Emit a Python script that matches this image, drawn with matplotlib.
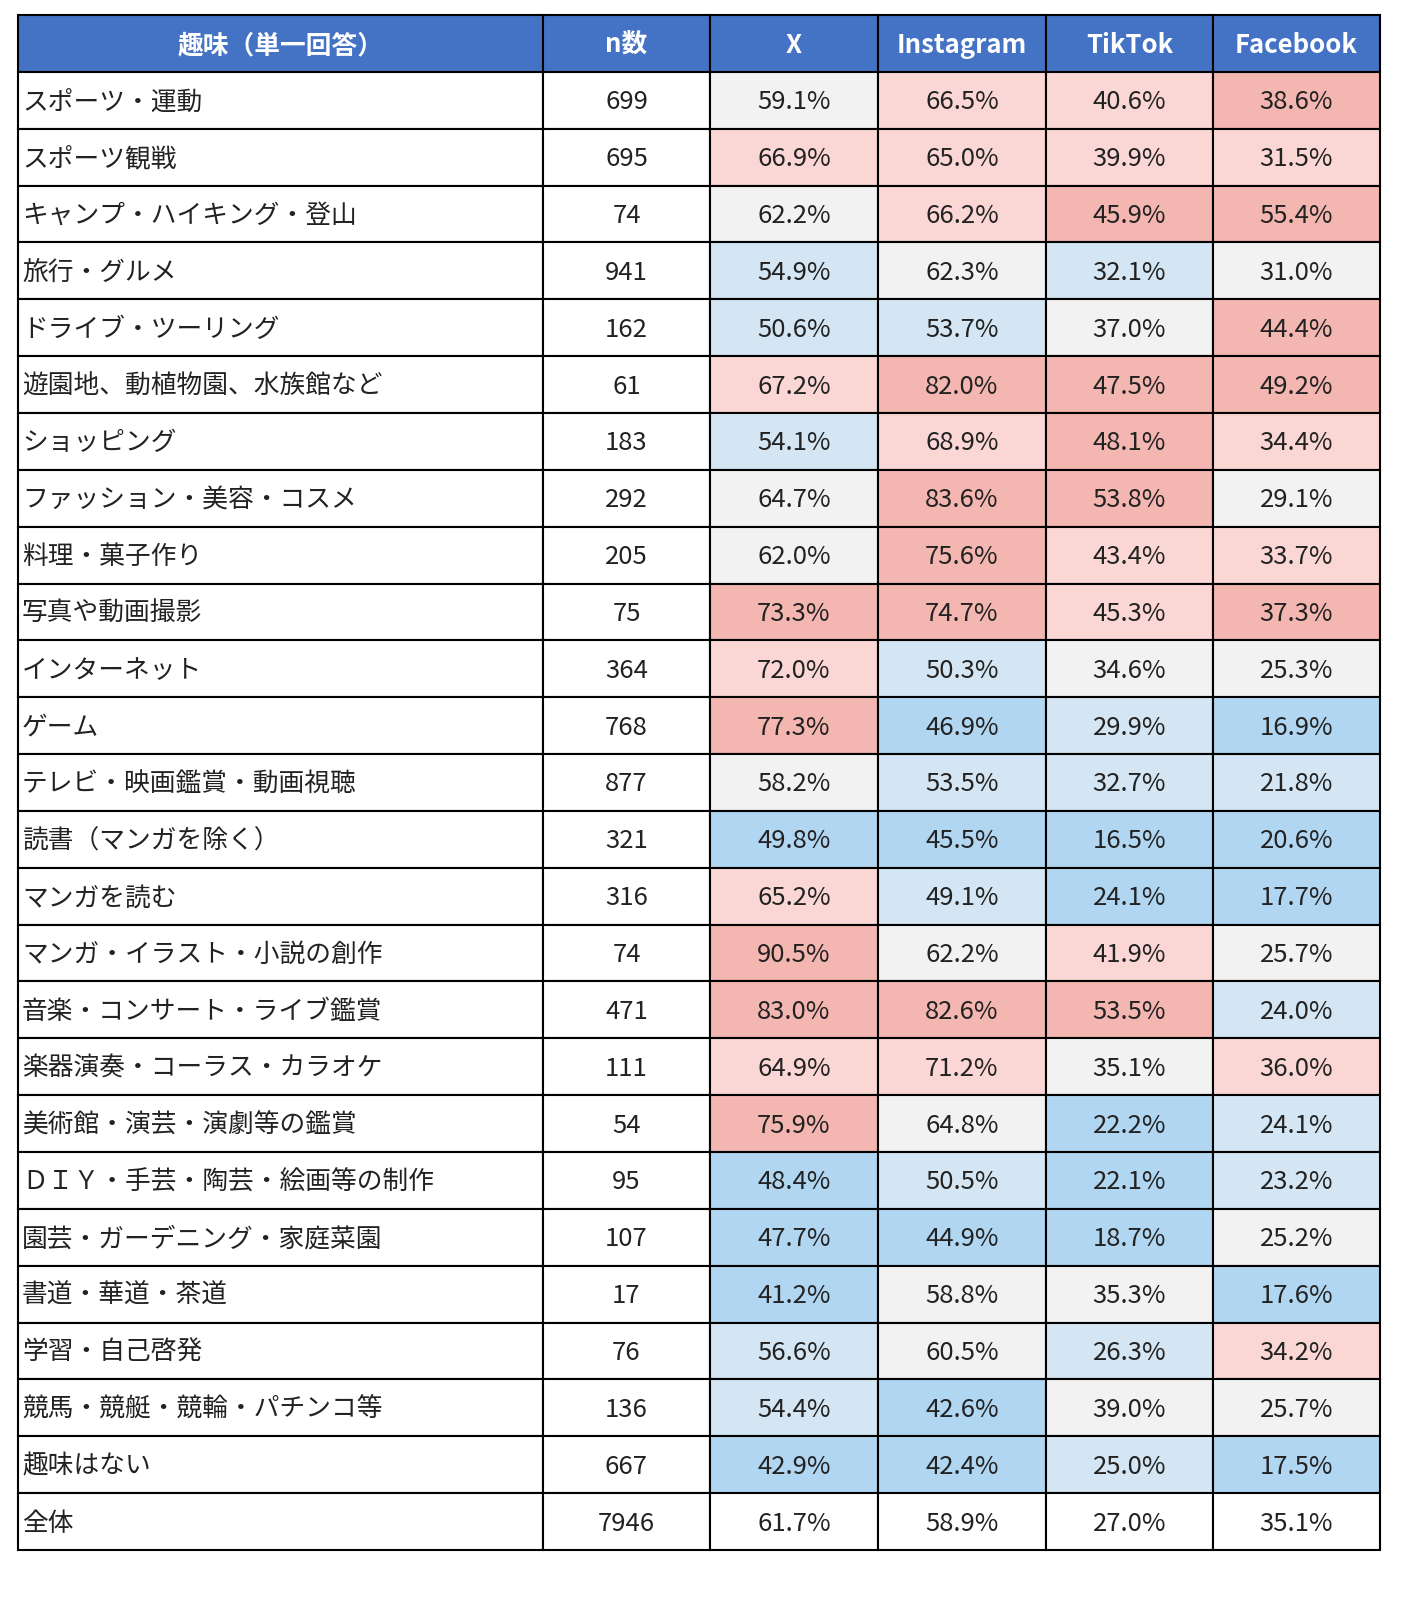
import matplotlib.pyplot as plt
from matplotlib.patches import Rectangle

plt.rcParams['font.family'] = ['Noto Sans CJK JP', 'DejaVu Sans']

header = ['趣味（単一回答）', 'n数', 'X', 'Instagram', 'TikTok', 'Facebook']
hobbies = ['スポーツ・運動', 'スポーツ観戦', 'キャンプ・ハイキング・登山', '旅行・グルメ',
           'ドライブ・ツーリング', '遊園地、動植物園、水族館など', 'ショッピング',
           'ファッション・美容・コスメ', '料理・菓子作り', '写真や動画撮影', 'インターネット',
           'ゲーム', 'テレビ・映画鑑賞・動画視聴', '読書（マンガを除く）', 'マンガを読む',
           'マンガ・イラスト・小説の創作', '音楽・コンサート・ライブ鑑賞',
           '楽器演奏・コーラス・カラオケ', '美術館・演芸・演劇等の鑑賞',
           'ＤＩＹ・手芸・陶芸・絵画等の制作', '園芸・ガーデニング・家庭菜園',
           '書道・華道・茶道', '学習・自己啓発', '競馬・競艇・競輪・パチンコ等',
           '趣味はない', '全体']
n = [699, 695, 74, 941, 162, 61, 183, 292, 205, 75, 364, 768, 877, 321, 316, 74,
     471, 111, 54, 95, 107, 17, 76, 136, 667, 7946]
x_pct = [59.1, 66.9, 62.2, 54.9, 50.6, 67.2, 54.1, 64.7, 62.0, 73.3, 72.0, 77.3, 58.2,
         49.8, 65.2, 90.5, 83.0, 64.9, 75.9, 48.4, 47.7, 41.2, 56.6, 54.4, 42.9, 61.7]
insta = [66.5, 65.0, 66.2, 62.3, 53.7, 82.0, 68.9, 83.6, 75.6, 74.7, 50.3, 46.9, 53.5,
         45.5, 49.1, 62.2, 82.6, 71.2, 64.8, 50.5, 44.9, 58.8, 60.5, 42.6, 42.4, 58.9]
tiktok = [40.6, 39.9, 45.9, 32.1, 37.0, 47.5, 48.1, 53.8, 43.4, 45.3, 34.6, 29.9, 32.7,
          16.5, 24.1, 41.9, 53.5, 35.1, 22.2, 22.1, 18.7, 35.3, 26.3, 39.0, 25.0, 27.0]
facebook = [38.6, 31.5, 55.4, 31.0, 44.4, 49.2, 34.4, 29.1, 33.7, 37.3, 25.3, 16.9, 21.8,
            20.6, 17.7, 25.7, 24.0, 36.0, 24.1, 23.2, 25.2, 17.6, 34.2, 25.7, 17.5, 35.1]
# shading level per cell: 2 dark pink, 1 light pink, 0 grey, -1 light blue, -2 blue, None white
levels = [
    [0, 1, 1, 2], [1, 1, 1, 1], [0, 1, 2, 2], [-1, 0, -1, 0], [-1, -1, 0, 2],
    [1, 2, 2, 2], [-1, 1, 2, 1], [0, 2, 2, 0], [0, 2, 1, 1], [2, 2, 1, 2],
    [1, -1, 0, 0], [2, -2, -1, -2], [0, -1, -1, -1], [-2, -2, -2, -2], [1, -1, -2, -2],
    [2, 0, 1, 0], [2, 2, 2, -1], [1, 1, 0, 1], [2, 0, -2, -1], [-2, -1, -2, -1],
    [-2, -2, -2, 0], [-2, 0, 0, -2], [-1, 0, -1, 1], [-1, -2, 0, 0], [-2, -2, -1, -2],
    [None, None, None, None]]
level_colors = {2: '#F4B6B0', 1: '#FAD7D4', 0: '#F2F2F2', -1: '#D4E6F3', -2: '#B1D6F1', None: 'white'}

col_edges = [18, 543, 710, 878, 1046, 1213, 1380]
W, H = 1427, 1604
top, row_h = 15, 56.85

fig = plt.figure(figsize=(W / 100, H / 100), dpi=100)
ax = fig.add_axes([0, 0, 1, 1])
ax.set_xlim(0, W)
ax.set_ylim(H, 0)
ax.axis('off')

def cell(c, r, color, text, ha='center', tcolor='#222222', bold=False):
    x0, x1 = col_edges[c], col_edges[c + 1]
    y0 = top + r * row_h
    ax.add_patch(Rectangle((x0, y0), x1 - x0, row_h, facecolor=color,
                           edgecolor='black', linewidth=1.5))
    tx = x0 + 4 if ha == 'left' else (x0 + x1) / 2
    ax.text(tx, y0 + row_h / 2 + 2, text, ha=ha, va='center', fontsize=18.5,
            color=tcolor, fontweight='bold' if bold else 'normal')

for c, h in enumerate(header):
    cell(c, 0, '#4472C4', h, tcolor='white', bold=True)

series = [x_pct, insta, tiktok, facebook]
for i, name in enumerate(hobbies):
    r = i + 1
    cell(0, r, 'white', name, ha='left')
    cell(1, r, 'white', str(n[i]))
    for j, s in enumerate(series):
        cell(2 + j, r, level_colors[levels[i][j]], f'{s[i]:.1f}%')

fig.savefig('out.png', dpi=100)
